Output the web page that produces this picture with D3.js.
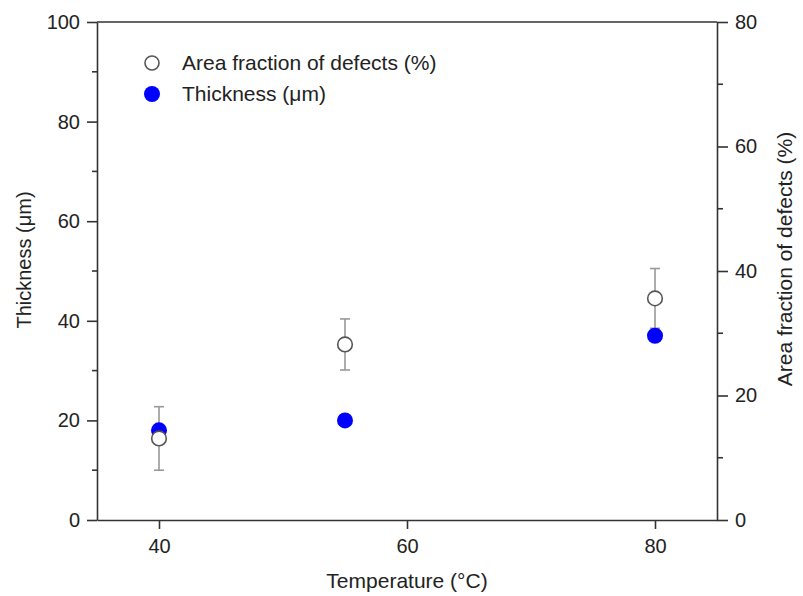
<!DOCTYPE html>
<html><head><meta charset="utf-8">
<script src="https://cdn.jsdelivr.net/npm/d3@7"></script>
<style>
body{margin:0;background:#fff;}
text{font-family:"Liberation Sans",Arial,sans-serif;fill:#222;}
</style></head>
<body>
<svg id="chart" width="803" height="596"></svg>
<script>
const temperatures = [40, 55, 80];
const thickness = [18, 20, 37];
const areaFraction = [13.1, 28.2, 35.6];
const areaError = [5.1, 4.1, 4.8];
const xTicks = [40, 60, 80];
const yLeftTicks = [0, 20, 40, 60, 80, 100];
const yRightTicks = [0, 20, 40, 60, 80];
const legendLabels = ["Area fraction of defects (%)", "Thickness (\u03bcm)"];

const svg = d3.select("#chart");
const L = 97, R = 717, T = 22, B = 520;
const fsTick = 20, fsTitle = 21;

const x = d3.scaleLinear().domain([35, 85]).range([L, R]);
const yL = d3.scaleLinear().domain([0, 100]).range([B, T]);
const yR = d3.scaleLinear().domain([0, 80]).range([B, T]);

const axisColor = "#333";

svg.append("line").attr("x1", L).attr("x2", R).attr("y1", T).attr("y2", T)
  .attr("stroke", axisColor).attr("stroke-width", 1.6);

function styleAxis(g){
  g.select(".domain").attr("stroke", axisColor).attr("stroke-width", 1.6);
  g.selectAll(".tick line").attr("stroke", axisColor).attr("stroke-width", 1.6);
  g.selectAll(".tick text").style("font-size", fsTick + "px").attr("fill", "#222");
}

const gMinor = svg.append("g");
[10, 30, 50, 70, 90].forEach(v => {
  gMinor.append("line").attr("x1", L - 5).attr("x2", L).attr("y1", yL(v)).attr("y2", yL(v))
    .attr("stroke", axisColor).attr("stroke-width", 1.6);
});
[10, 30, 50, 70].forEach(v => {
  gMinor.append("line").attr("x1", R).attr("x2", R + 6).attr("y1", yR(v)).attr("y2", yR(v))
    .attr("stroke", axisColor).attr("stroke-width", 1.6);
});

const gx = svg.append("g").attr("transform", `translate(0,${B})`)
  .call(d3.axisBottom(x).tickValues(xTicks).tickSize(9).tickPadding(10).tickSizeOuter(0));
styleAxis(gx);
const gyl = svg.append("g").attr("transform", `translate(${L},0)`)
  .call(d3.axisLeft(yL).tickValues(yLeftTicks).tickSize(10).tickPadding(7).tickSizeOuter(0));
styleAxis(gyl);
const gyr = svg.append("g").attr("transform", `translate(${R},0)`)
  .call(d3.axisRight(yR).tickValues(yRightTicks).tickSize(11).tickPadding(7).tickSizeOuter(0));
styleAxis(gyr);

svg.append("text").attr("x", (L + R) / 2).attr("y", 588).attr("text-anchor", "middle")
  .style("font-size", fsTitle + "px").text("Temperature (\u00b0C)");
svg.append("text").attr("transform", `translate(31,260) rotate(-90)`)
  .attr("text-anchor", "middle").style("font-size", "20px").text("Thickness (\u03bcm)");
svg.append("text").attr("transform", `translate(792,259) rotate(-90)`)
  .attr("text-anchor", "middle").style("font-size", fsTitle + "px").text("Area fraction of defects (%)");

const data = temperatures.map((t, i) => ({t, th: thickness[i], af: areaFraction[i], err: areaError[i]}));

const eb = svg.append("g").attr("stroke", "#999").attr("stroke-width", 1.6);
data.forEach(d => {
  eb.append("line").attr("x1", x(d.t)).attr("x2", x(d.t)).attr("y1", yR(d.af - d.err)).attr("y2", yR(d.af + d.err));
  [d.af - d.err, d.af + d.err].forEach(v => {
    eb.append("line").attr("x1", x(d.t) - 5).attr("x2", x(d.t) + 5).attr("y1", yR(v)).attr("y2", yR(v));
  });
});

svg.append("g").selectAll("circle").data(data).join("circle")
  .attr("cx", d => x(d.t)).attr("cy", d => yL(d.th)).attr("r", 8)
  .attr("fill", "#0000ff");

svg.append("g").selectAll("circle").data(data).join("circle")
  .attr("cx", d => x(d.t)).attr("cy", d => yR(d.af)).attr("r", 7.3)
  .attr("fill", "#fff").attr("stroke", "#555").attr("stroke-width", 1.6);

const lg = svg.append("g");
lg.append("circle").attr("cx", 152).attr("cy", 63).attr("r", 7)
  .attr("fill", "#fff").attr("stroke", "#555").attr("stroke-width", 1.6);
lg.append("circle").attr("cx", 152).attr("cy", 94).attr("r", 8).attr("fill", "#0000ff");
lg.append("text").attr("x", 182).attr("y", 70).style("font-size", fsTitle + "px").text(legendLabels[0]);
lg.append("text").attr("x", 182).attr("y", 101).style("font-size", fsTitle + "px").text(legendLabels[1]);
</script>
</body></html>
